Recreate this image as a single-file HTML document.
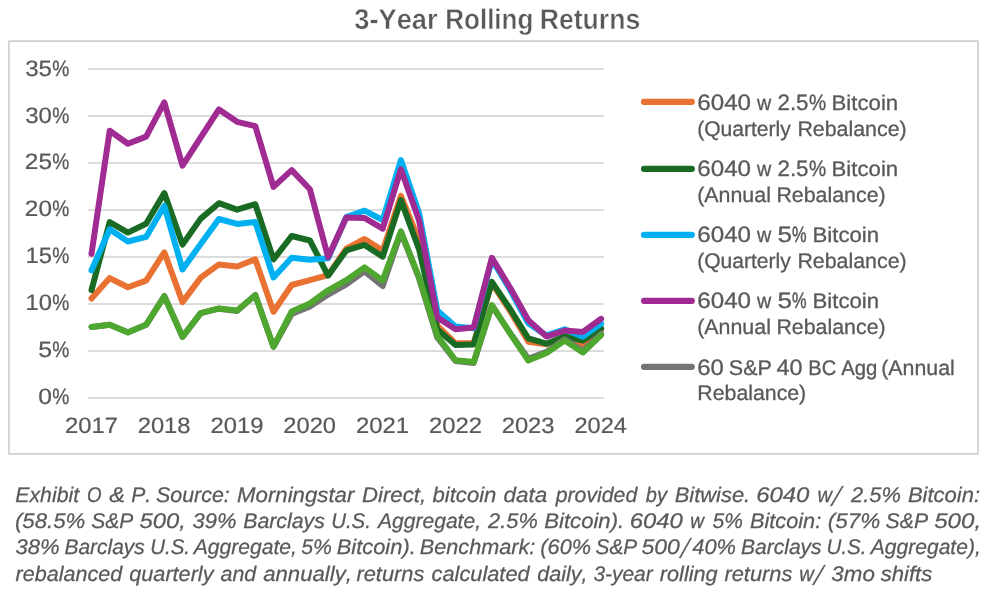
<!DOCTYPE html>
<html lang="en"><head><meta charset="utf-8"><title>3-Year Rolling Returns</title>
<style>
html,body{margin:0;padding:0;background:#fff;}
body{width:989px;height:592px;overflow:hidden;}
svg{display:block;}
text{font-family:"Liberation Sans",sans-serif;fill:#595959;font-kerning:none;font-variant-ligatures:none;white-space:pre;text-rendering:geometricPrecision;}
.t{font-size:28.7px;font-weight:bold;stroke:#fff;stroke-width:0.45px;}
.a{font-size:22.2px;stroke:#595959;stroke-width:0.22px;}
.l{font-size:21.2px;stroke:#595959;stroke-width:0.3px;}
.f{font-size:21.2px;font-style:italic;stroke:#595959;stroke-width:0.25px;}
.s{stroke:#fff;stroke-width:0.5px;}
</style></head><body>
<svg width="989" height="592" viewBox="0 0 989 592">
<rect x="0" y="0" width="989" height="592" fill="#fff"/>
<rect x="8.9" y="41.05" width="969.1" height="412.9" fill="none" stroke="#D0D0D0" stroke-width="1.7" stroke-linejoin="round"/>
<text class="t" y="29.1"><tspan x="354.27" textLength="83.34" lengthAdjust="spacingAndGlyphs">3-Year</tspan> <tspan x="445.16" textLength="88.29" lengthAdjust="spacingAndGlyphs">Rolling</tspan> <tspan x="539.72" textLength="100.57" lengthAdjust="spacingAndGlyphs">Returns</tspan></text>
<line x1="88" y1="398.0" x2="603.8" y2="398.0" stroke="#D0D0D0" stroke-width="1.6"/>
<line x1="88" y1="351.0" x2="603.8" y2="351.0" stroke="#D0D0D0" stroke-width="1.6"/>
<line x1="88" y1="304.0" x2="603.8" y2="304.0" stroke="#D0D0D0" stroke-width="1.6"/>
<line x1="88" y1="257.0" x2="603.8" y2="257.0" stroke="#D0D0D0" stroke-width="1.6"/>
<line x1="88" y1="210.0" x2="603.8" y2="210.0" stroke="#D0D0D0" stroke-width="1.6"/>
<line x1="88" y1="163.0" x2="603.8" y2="163.0" stroke="#D0D0D0" stroke-width="1.6"/>
<line x1="88" y1="116.0" x2="603.8" y2="116.0" stroke="#D0D0D0" stroke-width="1.6"/>
<line x1="88" y1="69.0" x2="603.8" y2="69.0" stroke="#D0D0D0" stroke-width="1.6"/>
<text class="a" y="404.4"><tspan x="38.24" textLength="13.73" lengthAdjust="spacingAndGlyphs">0</tspan><tspan x="52.22" textLength="17.07" lengthAdjust="spacingAndGlyphs" stroke-width="0.31">%</tspan></text>
<text class="a" y="357.4"><tspan x="38.20" textLength="13.84" lengthAdjust="spacingAndGlyphs">5</tspan><tspan x="52.22" textLength="17.07" lengthAdjust="spacingAndGlyphs" stroke-width="0.31">%</tspan></text>
<text class="a" y="310.4"><tspan x="25.49" textLength="26.44" lengthAdjust="spacingAndGlyphs">10</tspan><tspan x="52.22" textLength="17.07" lengthAdjust="spacingAndGlyphs" stroke-width="0.31">%</tspan></text>
<text class="a" y="263.4"><tspan x="25.48" textLength="26.52" lengthAdjust="spacingAndGlyphs">15</tspan><tspan x="52.22" textLength="17.07" lengthAdjust="spacingAndGlyphs" stroke-width="0.31">%</tspan></text>
<text class="a" y="216.4"><tspan x="24.88" textLength="27.08" lengthAdjust="spacingAndGlyphs">20</tspan><tspan x="52.22" textLength="17.07" lengthAdjust="spacingAndGlyphs" stroke-width="0.31">%</tspan></text>
<text class="a" y="169.4"><tspan x="24.87" textLength="27.15" lengthAdjust="spacingAndGlyphs">25</tspan><tspan x="52.22" textLength="17.07" lengthAdjust="spacingAndGlyphs" stroke-width="0.31">%</tspan></text>
<text class="a" y="122.5"><tspan x="25.18" textLength="26.76" lengthAdjust="spacingAndGlyphs">30</tspan><tspan x="52.22" textLength="17.07" lengthAdjust="spacingAndGlyphs" stroke-width="0.31">%</tspan></text>
<text class="a" y="75.5"><tspan x="25.18" textLength="26.83" lengthAdjust="spacingAndGlyphs">35</tspan><tspan x="52.22" textLength="17.07" lengthAdjust="spacingAndGlyphs" stroke-width="0.31">%</tspan></text>
<text class="a" y="433.2"><tspan x="64.90" textLength="53.00" lengthAdjust="spacingAndGlyphs">2017</tspan></text>
<text class="a" y="433.2"><tspan x="137.71" textLength="52.83" lengthAdjust="spacingAndGlyphs">2018</tspan></text>
<text class="a" y="433.2"><tspan x="210.50" textLength="52.92" lengthAdjust="spacingAndGlyphs">2019</tspan></text>
<text class="a" y="433.2"><tspan x="283.31" textLength="52.72" lengthAdjust="spacingAndGlyphs">2020</tspan></text>
<text class="a" y="433.2"><tspan x="356.10" textLength="52.96" lengthAdjust="spacingAndGlyphs">2021</tspan></text>
<text class="a" y="433.2"><tspan x="428.90" textLength="53.00" lengthAdjust="spacingAndGlyphs">2022</tspan></text>
<text class="a" y="433.2"><tspan x="501.71" textLength="52.84" lengthAdjust="spacingAndGlyphs">2023</tspan></text>
<text class="a" y="433.2"><tspan x="574.51" textLength="52.48" lengthAdjust="spacingAndGlyphs">2024</tspan></text>
<polyline points="91.5,298.5 109.7,278.1 127.9,287.2 146.1,280.6 164.3,252.3 182.5,302.1 200.7,277.6 218.9,264.4 237.1,266.5 255.3,259.4 273.5,311.7 291.7,285.0 309.9,280.2 328.1,275.1 346.3,248.6 364.5,239.0 382.7,250.6 400.9,195.9 419.1,240.7 437.3,325.6 455.5,343.3 473.7,343.0 491.9,283.0 510.1,311.0 528.3,341.7 546.5,344.3 564.7,337.0 582.9,344.1 601.1,329.7" fill="none" stroke="#E97132" stroke-width="6.0" stroke-linecap="round" stroke-linejoin="round"/>
<polyline points="91.5,290.1 109.7,222.1 127.9,232.6 146.1,223.7 164.3,193.1 182.5,244.6 200.7,218.6 218.9,203.2 237.1,209.7 255.3,204.2 273.5,259.4 291.7,236.0 309.9,240.5 328.1,275.7 346.3,250.4 364.5,244.9 382.7,256.7 400.9,200.1 419.1,249.4 437.3,329.4 455.5,345.0 473.7,344.4 491.9,281.9 510.1,309.0 528.3,338.4 546.5,343.7 564.7,336.2 582.9,340.6 601.1,328.3" fill="none" stroke="#196B24" stroke-width="6.0" stroke-linecap="round" stroke-linejoin="round"/>
<polyline points="91.5,270.3 109.7,229.2 127.9,241.5 146.1,236.9 164.3,205.9 182.5,269.4 200.7,244.0 218.9,219.0 237.1,223.9 255.3,222.1 273.5,277.5 291.7,257.7 309.9,259.7 328.1,258.3 346.3,217.0 364.5,210.7 382.7,220.0 400.9,160.0 419.1,213.3 437.3,310.6 455.5,326.5 473.7,328.3 491.9,259.5 510.1,289.8 528.3,323.2 546.5,335.4 564.7,329.3 582.9,336.6 601.1,323.6" fill="none" stroke="#00B0F0" stroke-width="6.0" stroke-linecap="round" stroke-linejoin="round"/>
<polyline points="91.5,253.9 109.7,130.7 127.9,143.8 146.1,136.6 164.3,102.3 182.5,165.6 200.7,137.5 218.9,109.4 237.1,121.8 255.3,126.2 273.5,186.9 291.7,170.1 309.9,189.2 328.1,257.1 346.3,217.6 364.5,218.0 382.7,228.7 400.9,169.3 419.1,220.4 437.3,317.5 455.5,329.3 473.7,327.5 491.9,257.8 510.1,287.7 528.3,320.2 546.5,336.6 564.7,330.5 582.9,331.9 601.1,318.8" fill="none" stroke="#A02B93" stroke-width="6.0" stroke-linecap="round" stroke-linejoin="round"/>
<polyline points="91.5,326.9 109.7,324.8 127.9,332.2 146.1,324.8 164.3,296.0 182.5,336.8 200.7,313.1 218.9,308.7 237.1,310.9 255.3,295.0 273.5,346.7 291.7,314.0 309.9,306.5 328.1,294.6 346.3,284.4 364.5,271.3 382.7,286.0 400.9,232.5 419.1,278.5 437.3,337.5 455.5,361.0 473.7,363.0 491.9,305.5 510.1,333.0 528.3,358.8 546.5,351.9 564.7,339.3 582.9,351.0 601.1,333.9" fill="none" stroke="#747474" stroke-width="6.0" stroke-linecap="round" stroke-linejoin="round"/>
<polyline points="91.5,326.9 109.7,324.8 127.9,332.5 146.1,324.8 164.3,296.3 182.5,336.8 200.7,313.1 218.9,308.4 237.1,310.5 255.3,295.3 273.5,346.7 291.7,311.5 309.9,303.5 328.1,290.3 346.3,280.2 364.5,267.4 382.7,280.4 400.9,231.3 419.1,277.3 437.3,335.8 455.5,360.2 473.7,362.0 491.9,305.2 510.1,333.4 528.3,360.6 546.5,353.1 564.7,340.5 582.9,352.5 601.1,335.1" fill="none" stroke="#4EA72E" stroke-width="6.0" stroke-linecap="round" stroke-linejoin="round"/>
<line x1="644" y1="101.9" x2="691.8" y2="101.9" stroke="#E97132" stroke-width="6.1" stroke-linecap="round"/>
<text class="l" y="109.6"><tspan x="697.27" textLength="53.77" lengthAdjust="spacingAndGlyphs" font-size="22.2">6040</tspan> <tspan x="756.93" textLength="14.22" lengthAdjust="spacingAndGlyphs" stroke-width="0.35">w</tspan> <tspan x="777.48" textLength="31.06" lengthAdjust="spacingAndGlyphs" font-size="22.2">2.5</tspan><tspan x="809.01" textLength="17.18" lengthAdjust="spacingAndGlyphs" font-size="22.2" stroke-width="0.39">%</tspan> <tspan x="831.58" textLength="66.56" lengthAdjust="spacingAndGlyphs">Bitcoin</tspan></text>
<text class="l" y="136.0"><tspan x="697.20" textLength="93.55" lengthAdjust="spacingAndGlyphs">(Quarterly</tspan> <tspan x="797.45" textLength="109.17" lengthAdjust="spacingAndGlyphs">Rebalance)</tspan></text>
<line x1="644" y1="168.9" x2="691.8" y2="168.9" stroke="#196B24" stroke-width="6.1" stroke-linecap="round"/>
<text class="l" y="175.7"><tspan x="697.27" textLength="53.77" lengthAdjust="spacingAndGlyphs" font-size="22.2">6040</tspan> <tspan x="756.93" textLength="14.22" lengthAdjust="spacingAndGlyphs" stroke-width="0.35">w</tspan> <tspan x="777.48" textLength="31.06" lengthAdjust="spacingAndGlyphs" font-size="22.2">2.5</tspan><tspan x="809.01" textLength="17.18" lengthAdjust="spacingAndGlyphs" font-size="22.2" stroke-width="0.39">%</tspan> <tspan x="831.58" textLength="66.56" lengthAdjust="spacingAndGlyphs">Bitcoin</tspan></text>
<text class="l" y="201.9"><tspan x="697.17" textLength="73.76" lengthAdjust="spacingAndGlyphs">(Annual</tspan> <tspan x="776.45" textLength="109.17" lengthAdjust="spacingAndGlyphs">Rebalance)</tspan></text>
<line x1="644" y1="234.9" x2="691.8" y2="234.9" stroke="#00B0F0" stroke-width="6.1" stroke-linecap="round"/>
<text class="l" y="241.5"><tspan x="697.27" textLength="53.77" lengthAdjust="spacingAndGlyphs" font-size="22.2">6040</tspan> <tspan x="756.93" textLength="14.22" lengthAdjust="spacingAndGlyphs" stroke-width="0.35">w</tspan> <tspan x="777.55" textLength="14.55" lengthAdjust="spacingAndGlyphs" font-size="22.2">5</tspan><tspan x="792.02" textLength="14.57" lengthAdjust="spacingAndGlyphs" font-size="22.2" stroke-width="0.48">%</tspan> <tspan x="812.48" textLength="66.66" lengthAdjust="spacingAndGlyphs">Bitcoin</tspan></text>
<text class="l" y="267.9"><tspan x="697.20" textLength="93.55" lengthAdjust="spacingAndGlyphs">(Quarterly</tspan> <tspan x="797.45" textLength="109.17" lengthAdjust="spacingAndGlyphs">Rebalance)</tspan></text>
<line x1="644" y1="300.9" x2="691.8" y2="300.9" stroke="#A02B93" stroke-width="6.1" stroke-linecap="round"/>
<text class="l" y="307.5"><tspan x="697.27" textLength="53.77" lengthAdjust="spacingAndGlyphs" font-size="22.2">6040</tspan> <tspan x="756.93" textLength="14.22" lengthAdjust="spacingAndGlyphs" stroke-width="0.35">w</tspan> <tspan x="777.55" textLength="14.55" lengthAdjust="spacingAndGlyphs" font-size="22.2">5</tspan><tspan x="792.02" textLength="14.57" lengthAdjust="spacingAndGlyphs" font-size="22.2" stroke-width="0.48">%</tspan> <tspan x="812.48" textLength="66.66" lengthAdjust="spacingAndGlyphs">Bitcoin</tspan></text>
<text class="l" y="333.9"><tspan x="697.17" textLength="73.76" lengthAdjust="spacingAndGlyphs">(Annual</tspan> <tspan x="776.45" textLength="109.17" lengthAdjust="spacingAndGlyphs">Rebalance)</tspan></text>
<line x1="644" y1="366.9" x2="691.8" y2="366.9" stroke="#747474" stroke-width="6.1" stroke-linecap="round"/>
<text class="l" y="375.0"><tspan x="697.28" textLength="26.65" lengthAdjust="spacingAndGlyphs" font-size="22.2">60</tspan> <tspan x="728.82" textLength="43.01" lengthAdjust="spacingAndGlyphs">S&amp;P</tspan> <tspan x="776.56" textLength="26.05" lengthAdjust="spacingAndGlyphs" font-size="22.2">40</tspan> <tspan x="808.35" textLength="27.91" lengthAdjust="spacingAndGlyphs" stroke-width="0.33">BC</tspan> <tspan x="841.16" textLength="36.05" lengthAdjust="spacingAndGlyphs" stroke-width="0.33">Agg</tspan> <tspan x="881.28" textLength="73.55" lengthAdjust="spacingAndGlyphs">(Annual</tspan></text>
<text class="l" y="399.9"><tspan x="697.35" textLength="108.87" lengthAdjust="spacingAndGlyphs">Rebalance)</tspan></text>
<text class="f" y="502.3"><tspan x="15.35" y="502.3" textLength="63.72" lengthAdjust="spacingAndGlyphs">Exhibit</tspan> <tspan x="86.89" y="502.3" textLength="14.53" lengthAdjust="spacingAndGlyphs" stroke-width="0.33">O</tspan> <tspan x="109.22" y="502.3" textLength="15.75" lengthAdjust="spacingAndGlyphs">&amp;</tspan> <tspan x="131.25" y="502.3" textLength="19.93" lengthAdjust="spacingAndGlyphs">P.</tspan> <tspan x="156.09" y="502.3" textLength="73.66" lengthAdjust="spacingAndGlyphs">Source:</tspan> <tspan x="237.12" y="502.3" textLength="117.23" lengthAdjust="spacingAndGlyphs">Morningstar</tspan> <tspan x="362.02" y="502.3" textLength="64.06" lengthAdjust="spacingAndGlyphs">Direct,</tspan> <tspan x="432.49" y="502.3" textLength="63.92" lengthAdjust="spacingAndGlyphs">bitcoin</tspan> <tspan x="503.64" y="502.3" textLength="43.72" lengthAdjust="spacingAndGlyphs">data</tspan> <tspan x="555.73" y="502.3" textLength="81.51" lengthAdjust="spacingAndGlyphs">provided</tspan> <tspan x="645.82" y="502.3" textLength="21.18" lengthAdjust="spacingAndGlyphs" stroke-width="0.29">by</tspan> <tspan x="674.73" y="502.3" textLength="75.46" lengthAdjust="spacingAndGlyphs">Bitwise.</tspan> <tspan x="756.16" y="502.3" textLength="53.24" lengthAdjust="spacingAndGlyphs">6040</tspan> <tspan x="817.40" y="502.3" textLength="14.52" lengthAdjust="spacingAndGlyphs" stroke-width="0.28">w</tspan><tspan x="831.49" y="506.2" textLength="9.78" lengthAdjust="spacingAndGlyphs" font-size="27.8" class="s">/</tspan> <tspan x="851.03" y="502.3" textLength="49.91" lengthAdjust="spacingAndGlyphs">2.5%</tspan> <tspan x="907.92" y="502.3" textLength="72.16" lengthAdjust="spacingAndGlyphs">Bitcoin:</tspan></text>
<text class="f" y="528.4"><tspan x="14.96" textLength="70.40" lengthAdjust="spacingAndGlyphs">(58.5%</tspan> <tspan x="91.21" textLength="42.03" lengthAdjust="spacingAndGlyphs">S&amp;P</tspan> <tspan x="139.46" textLength="46.41" lengthAdjust="spacingAndGlyphs">500,</tspan> <tspan x="192.59" textLength="43.96" lengthAdjust="spacingAndGlyphs">39%</tspan> <tspan x="243.25" textLength="81.59" lengthAdjust="spacingAndGlyphs">Barclays</tspan> <tspan x="331.17" textLength="39.73" lengthAdjust="spacingAndGlyphs" stroke-width="0.27">U.S.</tspan> <tspan x="378.04" textLength="103.01" lengthAdjust="spacingAndGlyphs">Aggregate,</tspan> <tspan x="488.13" textLength="49.61" lengthAdjust="spacingAndGlyphs">2.5%</tspan> <tspan x="544.22" textLength="80.00" lengthAdjust="spacingAndGlyphs">Bitcoin).</tspan> <tspan x="629.66" textLength="53.14" lengthAdjust="spacingAndGlyphs">6040</tspan> <tspan x="690.25" textLength="13.73" lengthAdjust="spacingAndGlyphs" stroke-width="0.32">w</tspan> <tspan x="712.53" textLength="30.38" lengthAdjust="spacingAndGlyphs">5%</tspan> <tspan x="749.93" textLength="71.34" lengthAdjust="spacingAndGlyphs">Bitcoin:</tspan> <tspan x="827.75" textLength="52.52" lengthAdjust="spacingAndGlyphs">(57%</tspan> <tspan x="885.60" textLength="42.44" lengthAdjust="spacingAndGlyphs">S&amp;P</tspan> <tspan x="934.16" textLength="46.94" lengthAdjust="spacingAndGlyphs">500,</tspan></text>
<text class="f" y="554.0"><tspan x="15.48" y="554.0" textLength="44.17" lengthAdjust="spacingAndGlyphs">38%</tspan> <tspan x="64.46" y="554.0" textLength="80.27" lengthAdjust="spacingAndGlyphs">Barclays</tspan> <tspan x="150.17" y="554.0" textLength="39.84" lengthAdjust="spacingAndGlyphs" stroke-width="0.27">U.S.</tspan> <tspan x="193.74" y="554.0" textLength="103.21" lengthAdjust="spacingAndGlyphs">Aggregate,</tspan> <tspan x="301.22" y="554.0" textLength="30.69" lengthAdjust="spacingAndGlyphs">5%</tspan> <tspan x="336.73" y="554.0" textLength="79.06" lengthAdjust="spacingAndGlyphs">Bitcoin).</tspan> <tspan x="419.83" y="554.0" textLength="115.53" lengthAdjust="spacingAndGlyphs">Benchmark:</tspan> <tspan x="540.38" y="554.0" textLength="50.65" lengthAdjust="spacingAndGlyphs">(60%</tspan> <tspan x="595.61" y="554.0" textLength="41.52" lengthAdjust="spacingAndGlyphs">S&amp;P</tspan> <tspan x="641.58" y="554.0" textLength="38.31" lengthAdjust="spacingAndGlyphs">500</tspan><tspan x="680.20" y="557.9" textLength="9.32" lengthAdjust="spacingAndGlyphs" font-size="27.8" class="s">/</tspan><tspan x="692.26" y="554.0" textLength="43.68" lengthAdjust="spacingAndGlyphs">40%</tspan> <tspan x="741.05" y="554.0" textLength="80.58" lengthAdjust="spacingAndGlyphs">Barclays</tspan> <tspan x="826.46" y="554.0" textLength="40.17" lengthAdjust="spacingAndGlyphs">U.S.</tspan> <tspan x="870.84" y="554.0" textLength="109.91" lengthAdjust="spacingAndGlyphs">Aggregate),</tspan></text>
<text class="f" y="580.8"><tspan x="15.64" y="580.8" textLength="106.59" lengthAdjust="spacingAndGlyphs">rebalanced</tspan> <tspan x="129.27" y="580.8" textLength="84.24" lengthAdjust="spacingAndGlyphs">quarterly</tspan> <tspan x="220.52" y="580.8" textLength="35.72" lengthAdjust="spacingAndGlyphs">and</tspan> <tspan x="263.20" y="580.8" textLength="88.78" lengthAdjust="spacingAndGlyphs">annually,</tspan> <tspan x="356.44" y="580.8" textLength="68.01" lengthAdjust="spacingAndGlyphs">returns</tspan> <tspan x="431.59" y="580.8" textLength="98.04" lengthAdjust="spacingAndGlyphs">calculated</tspan> <tspan x="537.27" y="580.8" textLength="50.33" lengthAdjust="spacingAndGlyphs">daily,</tspan> <tspan x="593.41" y="580.8" textLength="59.19" lengthAdjust="spacingAndGlyphs">3-year</tspan> <tspan x="659.84" y="580.8" textLength="57.85" lengthAdjust="spacingAndGlyphs">rolling</tspan> <tspan x="724.44" y="580.8" textLength="68.01" lengthAdjust="spacingAndGlyphs">returns</tspan> <tspan x="799.30" y="580.8" textLength="14.52" lengthAdjust="spacingAndGlyphs" stroke-width="0.28">w</tspan><tspan x="813.59" y="584.7" textLength="9.78" lengthAdjust="spacingAndGlyphs" font-size="27.8" class="s">/</tspan> <tspan x="831.38" y="580.8" textLength="43.43" lengthAdjust="spacingAndGlyphs">3mo</tspan> <tspan x="880.65" y="580.8" textLength="51.61" lengthAdjust="spacingAndGlyphs">shifts</tspan></text>
</svg>
</body></html>
